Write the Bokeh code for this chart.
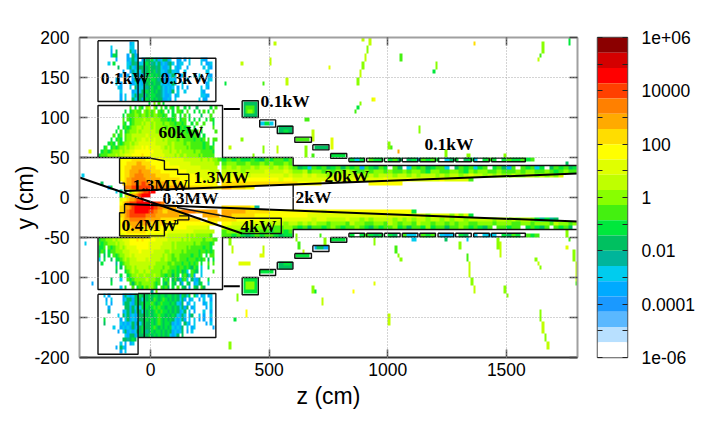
import numpy as np
from bokeh.core.properties import value
from bokeh.embed import file_html
from bokeh.layouts import row
from bokeh.models import FixedTicker, Label, LinearAxis, LinearColorMapper, Range1d
from bokeh.plotting import figure
from bokeh.resources import INLINE

# colour levels of the dose scale, top (1e+06) to bottom (1e-06)
LEVELS = "0123456789abcdefghij"
PALETTE = ["#8b0000", "#d40000", "#ff0000", "#ff4000", "#ff8000", "#ffaa00", "#ffdd00",
           "#ffff00", "#e0ff00", "#bfff00", "#88ff00", "#44f010", "#00e83c", "#00c060",
           "#00b59a", "#00ccee", "#00aaff", "#1a99ff", "#5ab8ff", "#b8e0ff"]
WHITE = "#ffffff"

CB_TICKS = {6: "1e+06", 4: "10000", 2: "100", 0: "1", -2: "0.01", -4: "0.0001", -6: "1e-06"}
Z_TICKS = [0, 500, 1000, 1500]
Y_TICKS = [-200, -150, -100, -50, 0, 50, 100, 150, 200]

# dose levels: columns every 10 cm from z = -230, rows every 5 cm from y = 192.5 down
DENSE = [
"..............gf",
"......f.......ff",
"......g.d.....dfg",
"......gcd....g.dgf",
"........g....gfdff.gfddcfdgfddgf..gg.g.f....fgg",
".....f.c.....fgdedffdcdedfdgfgedf.gff..f....f.ggf",
".........d...fdfgdddedcddedfggfd.fgf..g......f.fg",
"...........g..gefdfdedcdcedffgedffg..f........ff",
"..........g..g.fddgfedccdcdfgggfdf.gf....f.f...fg",
"........gf.....gdfgfdcdccdedgggffg.g..f....f...ff",
"........f.g...fgfdfgddcdcddfgfgfdf..f.........gf",
".........fg...f.dgffdedcddcefgfgf.g.f.g.....f.fg",
"..........f....gfgfddcdcdcdefgfgd.f..f......fg",
"..........g.f..fdgddgdcccddefggf.gf.........ffgg",
"..........g.f..dffdgdcdcdcddggfg.f.........f.gg",
"......................c.a.b.c",
"..............b.c.bc.a9.ac.b.c.bc.b..c.c..d.....c.b",
"............c.cbabb.ababa.bcb.c.c.bbc.b..c.c.b.c.b",
"...........c.bbbaabaababaabbcb..cb.c.b.c....d...b.",
"...........b.bcbaaaa9aa9aaabbbcbcb.cbb.c.c.c..c.bc",
"...........bc.cbaaa9a99a9aaabaabbcbbcb..c.b..b...c",
".........c.cbcbaa99a999a9aaaabaabbbcbcbb.c..b....b",
"........c.b.cbaaa9a999999aa9aaababbbcbcbbcb.c.....b",
".......b.cb.baa999999899999aaaaabbababbbcbbc.c....",
"......c.cbc.baa9a99889898999a9aaaabaabbbbcbbcb.b.bb",
".....cbc.bcbaa9a99888888899999aa9aaaabaabbbbbcbb.c",
"...cb.cbcbaa9a998887878888899a9a9aaaaababbbbbcbbcb",
"..cbbcbaaa9a9988777777778888999a99a9aaaaabaabbbbbc",
".cbbbaaa9a99888777767778888889999a9aa9aaaaababbbbb",
"..........7777766666677777778888888889999999a99a9aabb",
"..........7776666556666777777778888888889999999999aa",
"..........77666555555666677777777778888888889999999",
"..........776655554555566667777777777788888888889999",
"..........77665544445555566666677777777777888888888",
"..........776554444445555556666666677777777778888888",
"...........6655444433445555555666666677777777777777",
"............44433333333344444555555555666666666667777",
"........f.e.c.a8765433222",
"..........c.96655432222",
"..........8776554332",
"..........7654333222222223344",
"..........665543222222223344555555",
"..........66543322222233445566555555444444555555555",
"..........665433333334444555555555566660000005555555".replace("0", "."),
"..........7655444444455555566666666666666666...666666",
"..........76655555555556666666777777777777777777777",
"..........77666555566666666777777777778888888889",
"..........7776666666677777777788888888888999999999",
"..........8877777777778888888899999999a9a9aaaaaab",
".cbbaaa9a998887776767777788888999999a9a9aaaaabaaabb",
".bcbbaaa9a9988777777778888889999a9aaaaaaabaabbbbcb",
".ccb.bcbaa9a98888777778888899999a9aaaababbbbbcbbc",
".dbc.cbbaaa999888878888899999aa9aaaababbbbbcbbcbcb",
".c.d.c.bcbaa9989888888899999a9aabaabbbbbcbbcb.c.bb",
".f.c..d.ccba9a9998888989999aa9aabbabbbcbbbcbcb.d.c",
"..c.....e.cbaa99999999999aaaaabbabbbcbbcbcb.c..b.b",
"........c.d.baa9a99999a9aaaabaabbbcbbcbcdbc.f..c..",
"........d...cba9aa99a99aaaabaabbcbcbdcf.bcd.f....b",
"..........c..cbaa9aa9aaa9aabbcbbdbc.cbdfbg..f.....",
"......d...f..bcbaaaaa9aaabb.cbc.dbdgcbf.dfgd...c",
"......c.......bdbabaaaaabcb.cdb.cd.dg.cd.gfdc..f",
"..........f.c..b.cbcabaabc.bcbd.c.b.cd.g.cd.bd...",
".......................e.a",
"...f.g.....gdfgfddcdcdcdccdccdccdcdgcdfc.cf.gf.gf",
"....g.f....gfddgdcdfcdcdbcdcbcdcdcdfdg.gf..g.f..g",
"....f.g....fddfgdcdcdccbcdcbcccdcdfgd.gf.f...gf.f",
".....g......ddgdfdfcdcdcbcbccdccdcdfdgd.gf....g.f",
".....e.....gfdgdgcdfcdcdcbcbccdcdcdgfd.f.g...f..g",
".........f.dfdgfgfddcdcdccbccdcdcdfgdf.gd..f.g..f",
"...c......g.fdgfgfdddcdcdcbcdcdcdfgfdg.f.f.g.g..g",
"...d......fgfgfdgdfdcddcdcbcdccdgfgf.dfg.f....g.f",
".......f..gfgfgdgfdcdddcbcdcdcdcfgfgd.f.gf.......g",
".........g.fdgfgfddcdedcdccdcdcdgfgfd.g.f",
"............fgddgfddddcdcdcdcdcfgfd.d",
"...........ddedcd",
"..........f.g.gf",
"........g.dfg",
"..........g.f",
]

# dose levels along the beam pipe: y of the row, then one level every 20 cm from z = 300
PIPE = {
    47.5: "cbcbccbcdbcbbcb............cfc.bcc.cbd.dcfbcbc.fdc.dcf.cbc.cbccbcb",
    42.5: "baabbabbababbab",
    37.5: "a9a9aa9a99a9a9abdcfbcbdcbdbcbgbcdbc.bd.fbcbdcbbf.dbcbfcb.cbdgb.bcbfc.dbcbdc",
    32.5: "9999a9999899989aa9baababaa9abbabaababbabaabcaabbaabcabaabbabbbabaabbabcbabb",
    27.5: "8888898888888989989899a9899989a9a999a99a9a999a9a99a9899a9a9aa9aa99a9a9a8",
    22.5: "7777777777778778888888888888788888788887888888788888b",
    17.5: "666666666666666677777..........7777777",
    12.5: "5566677",
    -12.5: "6666667e",
    -17.5: "5555566666777777777778777777777777777777c",
    -22.5: "5566666777777777778888888888888888888888878a8888a8a8c",
    -27.5: "66677777888888888889889999899a9a9999a9a9a99a99a9a99a99999a99a9a99aceced",
    -32.5: "7788888899999a99a9a9aabaaab9aabbaab9abaab9aabaababaabbaaabaaabbaabaaab9aabaab",
    -37.5: "899999aaaaabbaabcbdbbcbabcbbabcdbcbbacbdbbcacbbdbbabcbcdb.bbcbb.cbcdb.bcbd.bc",
    -42.5: "baaabbbabbcbbcb",
    -47.5: "bbcbcdcbcbbcdcc............c.cbcdc.cd.bff.bcb.fgf.cd.f.fff.cdbc.bcb",
}

# isolated deposits: z from, z to, y from, y to, level
SPOTS = [
    (920, 930, 190, 200, "9"), (910, 920, 180, 190, "a"), (900, 910, 170, 180, "9"), (890, 900, 160, 170, "a"),
    (880, 890, 150, 160, "9"), (870, 880, 140, 150, "a"), (890, 900, 195, 200, "9"), (880, 890, 115, 120, "a"),
    (870, 880, 110, 115, "c"), (860, 870, 105, 110, "b"), (930, 940, 120, 125, "8"), (940, 950, 120, 125, "7"),
    (1050, 1060, 170, 180, "b"), (1200, 1210, 160, 170, "a"), (1190, 1200, 155, 160, "c"), (1360, 1370, 190, 195, "6"),
    (1650, 1660, 180, 195, "a"), (1640, 1650, 175, 180, "b"), (1630, 1640, 170, 175, "9"), (1760, 1770, 190, 200, "c"),
    (750, 760, 160, 165, "8"), (650, 670, 95, 100, "b"), (1130, 1140, 80, 90, "a"), (680, 690, 70, 85, "9"),
    (760, 770, 60, 75, "8"), (650, 660, 50, 65, "a"), (680, 690, 50, 55, "b"), (1000, 1010, 60, 70, "a"),
    (1010, 1020, 60, 65, "b"), (1040, 1050, 55, 60, "5"), (1240, 1250, 50, 60, "a"), (1330, 1350, 50, 55, "a"),
    (1490, 1500, 50, 55, "a"), (1750, 1760, 40, 45, "d"), (380, 390, 165, 170, "9"), (500, 510, 165, 175, "9"),
    (520, 530, 190, 195, "9"), (570, 580, 140, 150, "9"), (470, 480, 140, 145, "b"), (310, 320, 140, 145, "c"),
    (380, 390, 70, 75, "a"), (330, 340, 60, 65, "9"), (470, 480, 55, 65, "a"), (530, 540, 55, 65, "9"),
    (430, 440, 50, 55, "a"), (-260, -250, 55, 60, "8"), (-290, -280, 25, 30, "f"), (-210, -200, 15, 20, "d"),
    (-180, -170, 10, 15, "g"), (-170, -160, 10, 15, "c"),
    (390, 450, 100, 120, "d"), (400, 440, 105, 115, "b"), (410, 430, 105, 110, "a"), (460, 520, 90, 95, "f"),
    (480, 500, 90, 95, "c"), (540, 600, 80, 90, "d"), (560, 580, 80, 85, "c"), (610, 670, 70, 75, "b"),
    (690, 750, 60, 65, "d"), (760, 820, 50, 55, "c"),
    (680, 690, -120, -110, "a"), (690, 700, -120, -115, "c"), (720, 730, -135, -125, "9"), (850, 860, -120, -115, "7"),
    (940, 950, -110, -105, "8"), (1000, 1010, -160, -145, "9"), (1030, 1040, -70, -60, "b"), (1040, 1050, -75, -70, "a"),
    (1050, 1060, -80, -75, "a"), (1330, 1340, -80, -70, "b"), (1340, 1350, -100, -80, "9"), (1350, 1360, -110, -100, "a"),
    (1360, 1370, -120, -110, "9"), (1470, 1480, -75, -55, "9"), (1460, 1470, -65, -50, "a"), (1490, 1500, -120, -110, "a"),
    (1500, 1510, -125, -120, "a"), (1620, 1630, -80, -75, "a"), (1630, 1640, -85, -80, "9"), (1640, 1650, -90, -85, "a"),
    (1640, 1650, -155, -140, "a"), (1650, 1660, -170, -155, "9"), (1660, 1670, -180, -170, "a"), (1670, 1680, -190, -180, "9"),
    (1750, 1760, -50, -40, "a"), (1760, 1770, -55, -50, "b"), (1750, 1760, -65, -60, "8"), (1780, 1790, -80, -65, "a"),
    (1790, 1800, -105, -80, "9"), (1790, 1800, -110, -105, "b"), (610, 620, -55, -45, "a"), (620, 630, -65, -55, "b"),
    (640, 650, -70, -65, "9"), (710, 720, -50, -45, "b"), (730, 740, -60, -50, "a"), (940, 950, -60, -50, "a"),
    (1300, 1310, -65, -55, "a"), (1240, 1250, -55, -50, "d"), (1100, 1120, -55, -50, "f"), (1330, 1340, -55, -50, "f"),
    (330, 340, -60, -50, "a"), (340, 350, -70, -60, "9"), (370, 420, -85, -80, "8"), (460, 480, -75, -70, "8"),
    (470, 480, -70, -60, "9"), (360, 370, -130, -120, "a"), (400, 410, -150, -140, "7"), (350, 360, -155, -150, "c"),
    (330, 340, -190, -180, "a"), (-280, -270, -60, -55, "f"), (-250, -240, -110, -105, "g"),
    (760, 820, -55, -50, "c"), (690, 750, -65, -60, "g"), (700, 730, -65, -60, "d"), (610, 670, -75, -70, "c"),
    (540, 600, -90, -80, "d"), (560, 590, -85, -80, "c"), (460, 520, -95, -90, "c"), (390, 450, -120, -100, "c"),
    (400, 440, -115, -105, "a"),
]

# detector outlines, as (z, y) vertices
OUTLINES = [
    [(-222, 196), (-53, 196), (-53, 120), (-222, 120), (-222, 196)],
    [(-53, 174), (275, 174), (275, 120), (-53, 120)],
    [(-27, 174), (-27, 120)],
    [(-300, 50), (-222, 50), (-222, 115), (303, 115), (303, 50), (601, 50), (601, 40), (1800, 40)],
    [(-300, -50), (-222, -50), (-222, -115), (303, -115), (303, -50), (601, -50), (601, -40), (1800, -40)],
    [(-222, -121), (-53, -121), (-53, -196), (-222, -196), (-222, -121)],
    [(-53, -120), (275, -120), (275, -175), (-53, -175)],
    [(-27, -120), (-27, -175)],
    [(-222, 50), (0, 50)],
    [(-222, -50), (0, -50)],
    [(-131, 49), (0, 49), (58, 46), (58, 35), (114, 35), (114, 29), (161, 29), (161, 11)],
    [(-131, 49), (-131, 18), (-110, 18), (-110, 8)],
    [(-131, -48), (58, -48), (58, -33), (114, -33), (114, -28), (161, -28), (161, -23), (120, -23)],
    [(-131, -48), (-131, -19), (-110, -19), (-110, -8)],
    [(601, 16), (601, -16)],
    [(358, -26), (551, -26), (551, -45), (386, -45)],
    [(111, -12.5), (358, -26)],
    [(386, 121), (454, 121), (454, 100), (386, 100), (386, 121)],
    [(460, 97), (527, 97), (527, 88), (460, 88), (460, 97)],
    [(534, 89), (600, 89), (600, 80), (534, 80), (534, 89)],
    [(608, 75.5), (678, 75.5), (678, 69), (608, 69), (608, 75.5)],
    [(684, 66), (752, 66), (752, 59.5), (684, 59.5), (684, 66)],
    [(759, 55), (827, 55), (827, 49), (759, 49), (759, 55)],
    [(386, -100), (454, -100), (454, -121.6), (386, -121.6), (386, -100)],
    [(460, -90), (527, -90), (527, -97.5), (460, -97.5), (460, -90)],
    [(534, -81), (600, -81), (600, -89.5), (534, -89.5), (534, -81)],
    [(608, -70), (678, -70), (678, -76), (608, -76), (608, -70)],
    [(684, -60), (752, -60), (752, -67.5), (684, -67.5), (684, -60)],
    [(759, -50), (827, -50), (827, -56), (759, -56), (759, -50)],
]
STRIP_STARTS = [836, 911, 986, 1061, 1135, 1212, 1286, 1362]
STRIP_WIDTH = 66
LAST_STRIP = (1437, 1580)
STRIP_Y = (44.6, 49.2)
THICK_LINES = [
    [(-110, 8), (1800, 30)],
    [(-110, -8), (1800, -30)],
    [(-300, 25), (386, -45)],
    [(308, 110.5), (376, 110.5)],
    [(308, -111), (376, -111)],
]

LABEL_TEXT = ["0.1kW", "0.3kW", "0.1kW", "60kW", "0.1kW", "1.3MW", "20kW", "1.3MW", "0.3MW", "2kW", "0.4MW", "4kW"]
LABEL_Z = [-107, 145, 567, 127, 1258, 299, 827, 41, 168, 687, -5, 455]
LABEL_Y = [150, 150, 121, 82, 67, 26, 27, 16, 0, 1, -34, -36]

for z0 in STRIP_STARTS:
    for sign in (1, -1):
        OUTLINES.append([(z0, sign * STRIP_Y[0]), (z0 + STRIP_WIDTH, sign * STRIP_Y[0]),
                         (z0 + STRIP_WIDTH, sign * STRIP_Y[1]), (z0, sign * STRIP_Y[1]), (z0, sign * STRIP_Y[0])])
for sign in (1, -1):
    a, b = LAST_STRIP
    OUTLINES.append([(a, sign * STRIP_Y[0]), (b, sign * STRIP_Y[0]), (b, sign * STRIP_Y[1]),
                     (a, sign * STRIP_Y[1]), (a, sign * STRIP_Y[0])])

# level -> log10(dose), the centre of each colour band
N = len(PALETTE) + 1
def log_dose(ch):
    return 6 - (LEVELS.index(ch) + 0.5) * 12 / N

grid = np.full((80, 210), np.nan)
def put(iy, ix, ch):
    if ch != "." and 0 <= iy < 80 and 0 <= ix < 210:
        grid[iy, ix] = log_dose(ch)

for r, text in enumerate(DENSE):
    iy = 78 - r
    for c, ch in enumerate(text):
        put(iy, 7 + c, ch)
for y, text in PIPE.items():
    iy = int((y + 200) // 5)
    for c, ch in enumerate(text):
        put(iy, 60 + 2 * c, ch)
        put(iy, 61 + 2 * c, ch)
for z0, z1, y0, y1, ch in SPOTS:
    for ix in range((z0 + 300) // 10, (z1 + 300) // 10):
        for iy in range((y0 + 200) // 5, (y1 + 200) // 5):
            put(iy, ix, ch)

TICK_FONT = "Liberation Sans"
p = figure(width=590, height=420, x_range=Range1d(-300, 1800), y_range=Range1d(-200, 200),
           toolbar_location=None, output_backend="svg", min_border_left=79, min_border_right=13,
           min_border_top=36, min_border_bottom=63, x_axis_label="z (cm)", y_axis_label="y (cm)")
mapper = LinearColorMapper(palette=PALETTE[::-1], low=-6 + 12 / N, high=6, nan_color=(0, 0, 0, 0))
p.image(image=[grid], x=-300, y=-200, dw=2100, dh=400, color_mapper=mapper)
xs = [[v[0] for v in path] for path in OUTLINES]
ys = [[v[1] for v in path] for path in OUTLINES]
p.multi_line(xs, ys, line_color="#111111", line_width=1.4)
p.multi_line([[v[0] for v in path] for path in THICK_LINES], [[v[1] for v in path] for path in THICK_LINES],
             line_color="#000000", line_width=2)
t = p.text(LABEL_Z, LABEL_Y, text=LABEL_TEXT, text_font=value("Liberation Serif"), text_font_style="bold",
           text_font_size="17.5px", text_align="center", text_baseline="middle", text_color="#000000")
t.level = "overlay"

p.xaxis.ticker = FixedTicker(ticks=Z_TICKS)
p.yaxis.ticker = FixedTicker(ticks=Y_TICKS)
p.yaxis.major_label_overrides = {v: str(v) for v in Y_TICKS}
p.xgrid.ticker = FixedTicker(ticks=Z_TICKS)
p.ygrid.ticker = FixedTicker(ticks=Y_TICKS)
for g in (p.xgrid[0], p.ygrid[0]):
    g.grid_line_color = "#a8a8a8"
    g.grid_line_dash = "1 2"
    g.grid_line_width = 1
    g.level = "overlay"

p.add_layout(LinearAxis(ticker=FixedTicker(ticks=Z_TICKS), major_label_overrides={v: "" for v in Z_TICKS}), "above")
p.add_layout(LinearAxis(ticker=FixedTicker(ticks=Y_TICKS), major_label_overrides={v: "" for v in Y_TICKS}), "right")
for ax in p.axis:
    ax.major_tick_in = 8
    ax.major_tick_out = 0
    ax.minor_tick_line_color = None
    ax.major_tick_line_color = "#444444"
    ax.major_tick_line_width = 1.5
    ax.axis_line_color = "#a0a0a0"
    ax.axis_line_width = 2
    ax.major_label_text_font = TICK_FONT
    ax.major_label_text_font_size = "17.5px"
    ax.major_label_text_color = "#000000"
    ax.axis_label_text_font = TICK_FONT
    ax.axis_label_text_font_size = "23px"
    ax.axis_label_text_font_style = "normal"
    ax.axis_label_text_color = "#000000"
p.below[0].axis_line_color = "#333333"
p.below[0].axis_line_width = 2
p.below[0].major_label_standoff = 5
p.below[0].axis_label_standoff = 4
p.left[0].major_label_standoff = 10
p.left[0].axis_label_standoff = -7
p.outline_line_color = None

# colour bar
cb = figure(width=108, height=420, x_range=Range1d(0, 1), y_range=Range1d(-6, 6),
            toolbar_location=None, output_backend="svg", min_border_left=7, min_border_right=69,
            min_border_top=37, min_border_bottom=63)
bands = PALETTE + [WHITE]
tops = [6 - i * 12 / N for i in range(N)]
bots = [6 - (i + 1) * 12 / N for i in range(N)]
cb.quad(left=0, right=1, top=tops, bottom=bots, fill_color=bands, line_color=None)
cb.xaxis.visible = False
cb.xgrid.visible = False
cb.ygrid.visible = False
cb_all = list(range(-6, 7))
cb.yaxis.visible = False
cb.add_layout(LinearAxis(ticker=FixedTicker(ticks=cb_all),
                         major_label_overrides={v: CB_TICKS.get(v, "") for v in cb_all}), "right")
cb.add_layout(LinearAxis(ticker=FixedTicker(ticks=cb_all), major_label_overrides={v: "" for v in cb_all}), "left")
for ax in cb.right + cb.left:
    ax.major_tick_in = 5
    ax.major_tick_out = 0
    ax.minor_tick_line_color = None
    ax.major_tick_line_color = "#222222"
    ax.axis_line_color = None
    ax.major_label_text_font = TICK_FONT
    ax.major_label_text_font_size = "17.5px"
    ax.major_label_text_color = "#000000"
cb.right[0].major_label_standoff = 14
cb.outline_line_color = "#555555"
cb.outline_line_width = 1.5
cb.add_layout(Label(x=101, y=342, x_units="screen", y_units="screen", text="MGy/yr",
                    text_font="Liberation Serif", text_font_style="bold", text_font_size="17.5px",
                    text_align="right", text_baseline="middle", text_color="#000000"))

layout = row(p, cb, spacing=0)
open("out.html", "w").write(file_html(layout, INLINE))
